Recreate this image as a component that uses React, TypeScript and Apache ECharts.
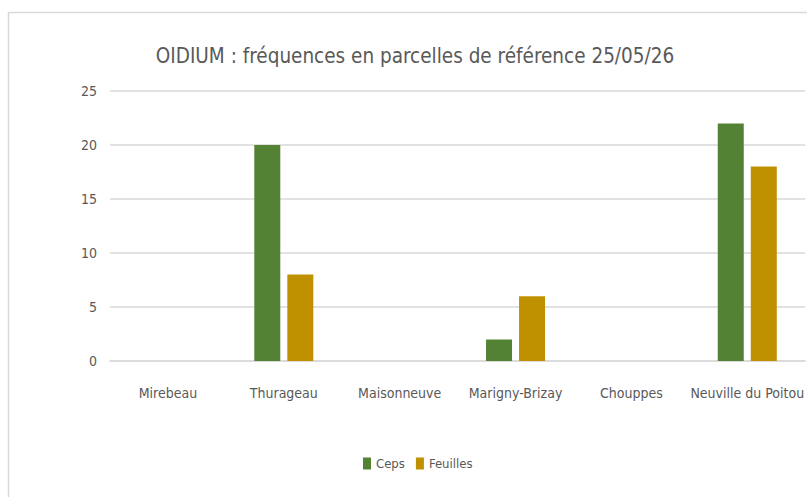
import React, { useEffect, useRef } from "react";
import * as echarts from "echarts";

const categories = ["Mirebeau", "Thurageau", "Maisonneuve", "Marigny-Brizay", "Chouppes", "Neuville du Poitou"];
const ceps = [0, 20, 0, 2, 0, 22];
const feuilles = [0, 8, 0, 6, 0, 18];
const yTicks = { min: 0, max: 25, interval: 5 };
const titleText = "OIDIUM : fréquences en parcelles de référence 25/05/26";

const FONT = "'DejaVu Sans Condensed', 'Open Sans', sans-serif";

export default function App() {
  const ref = useRef<HTMLDivElement>(null);
  useEffect(() => {
    if (!ref.current) return;
    const chart = echarts.init(ref.current, null, { renderer: "svg" });
    chart.setOption({
      animation: false,
      backgroundColor: "#ffffff",
      textStyle: { fontFamily: FONT },
      title: {
        text: titleText,
        left: 415,
        textAlign: "center",
        top: 45,
        padding: 0,
        textStyle: { fontFamily: FONT, fontSize: 20.5, fontWeight: "normal", color: "#595959" },
      },
      graphic: [
        {
          type: "rect",
          shape: { x: 8.5, y: 12.5, width: 900, height: 600 },
          style: { fill: "none", stroke: "#d9d9d9", lineWidth: 1.5 },
          silent: true,
        },
      ],
      legend: {
        top: 457,
        left: 363,
        padding: 0,
        itemWidth: 8,
        itemHeight: 12,
        itemGap: 11,
        icon: "rect",
        textStyle: { fontFamily: FONT, fontSize: 13, color: "#595959" },
        data: ["Ceps", "Feuilles"],
      },
      grid: { left: 110, right: 0, top: 91, bottom: 136, containLabel: false },
      xAxis: {
        type: "category",
        data: categories,
        axisLine: { lineStyle: { color: "#d9d9d9", width: 1.5 } },
        axisTick: { show: false },
        axisLabel: { fontFamily: FONT, fontSize: 14, color: "#595959", margin: 25, interval: 0 },
      },
      yAxis: {
        type: "value",
        min: yTicks.min,
        max: yTicks.max,
        interval: yTicks.interval,
        axisLine: { show: false },
        axisTick: { show: false },
        splitLine: { lineStyle: { color: "#d9d9d9", width: 1.5 } },
        axisLabel: { fontFamily: FONT, fontSize: 14, color: "#595959", margin: 13 },
      },
      series: [
        {
          name: "Ceps",
          type: "bar",
          data: ceps,
          itemStyle: { color: "#548235" },
          barWidth: 26,
          barGap: "27%",
        },
        {
          name: "Feuilles",
          type: "bar",
          data: feuilles,
          itemStyle: { color: "#BF9000" },
          barWidth: 26,
          barGap: "27%",
        },
      ],
    });
    return () => chart.dispose();
  }, []);
  return (
    <div
      ref={ref}
      style={{ position: "fixed", left: 0, top: 0, width: 807, height: 497, background: "#fff" }}
    />
  );
}
